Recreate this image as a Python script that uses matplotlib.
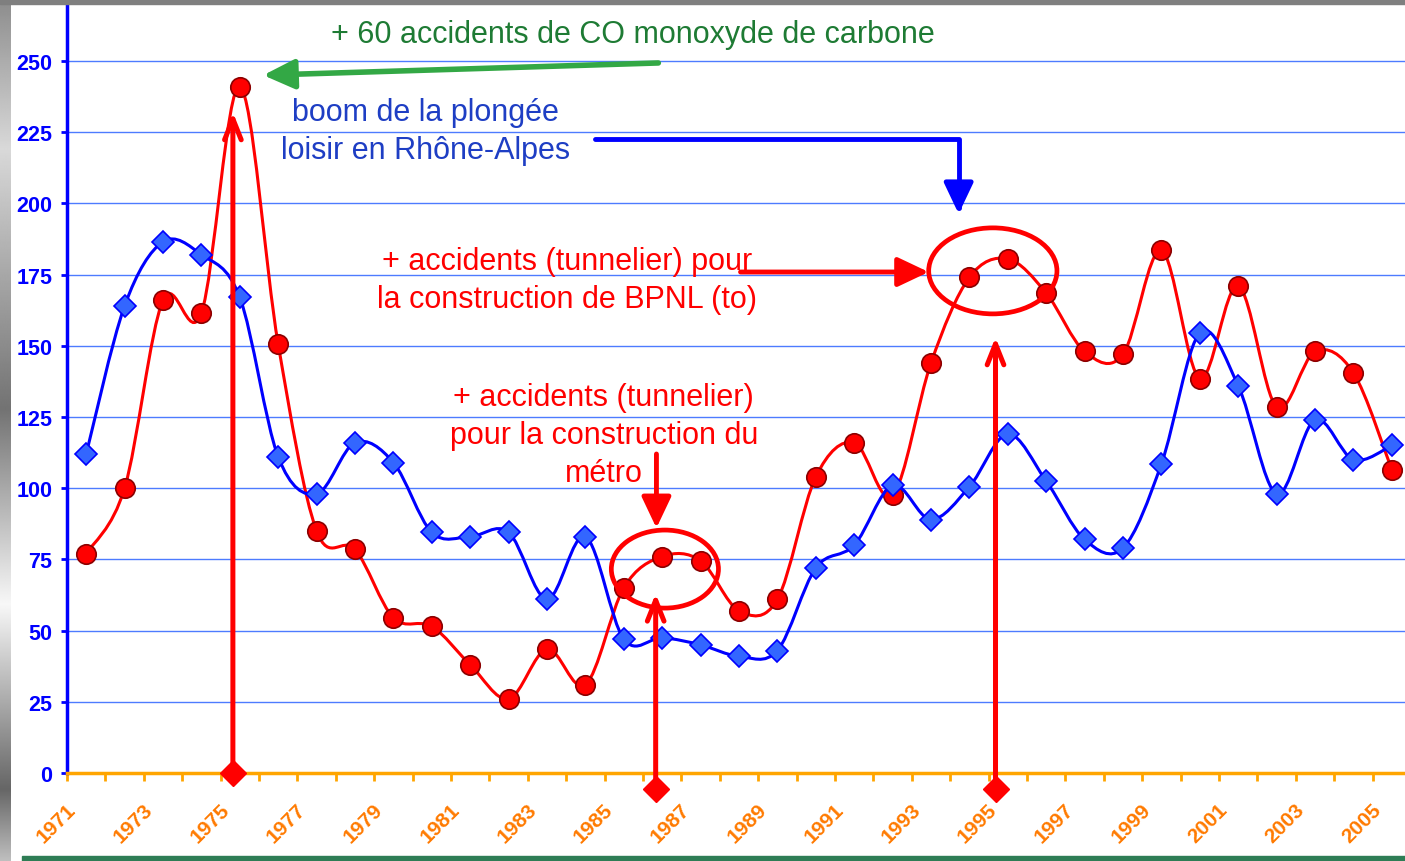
import matplotlib.pyplot as plt
import numpy as np
from matplotlib.path import Path
from matplotlib.patches import PathPatch, Ellipse, Rectangle
import matplotlib.transforms as mtransforms

plt.rcParams["font.family"] = ["Liberation Sans", "DejaVu Sans"]

# Années et séries
years = list(range(1971, 2006))
rouge = [77, 100, 166, 161.5, 241, 150.5, 85, 78.5, 54.5, 51.5,
         38, 26, 43.5, 31, 65, 76, 74.5, 57, 61, 104,
         116, 97.5, 144, 174, 180.5, 168.5, 148, 147, 183.5, 138.5,
         171, 128.5, 148, 140.5, 106.5]
bleu = [112, 164, 186.5, 182, 167, 111, 98, 116, 109, 84.5,
        83, 84.5, 61, 83, 47, 47.5, 45, 41, 43, 72,
        80, 101, 89, 100.5, 119, 102.5, 82, 79, 108.5, 154.5,
        136, 98, 124, 110, 115]
yticks = list(range(0, 251, 25))
xlabels = [str(y) for y in years[::2]]

# années marquées par les flèches verticales
evt_years = [1974.82, 1985.83, 1994.68]
evt_base = [0, -5.6, -5.6]
evt_top = [232, 63, 153]


def courbe_lisse(xs, ys):
    # courbe lissée façon Excel (Catmull-Rom en Bézier)
    pts = np.column_stack([xs, ys]).astype(float)
    n = len(pts)
    verts = [pts[0]]
    codes = [Path.MOVETO]
    for i in range(n - 1):
        p0 = pts[max(i - 1, 0)]
        p1 = pts[i]
        p2 = pts[i + 1]
        p3 = pts[min(i + 2, n - 1)]
        verts += [p1 + (p2 - p0) / 6, p2 - (p3 - p1) / 6, p2]
        codes += [Path.CURVE4] * 3
    return Path(verts, codes)


fig = plt.figure(figsize=(14.05, 8.62), dpi=100)

# bordures décoratives
g = np.interp(np.arange(862), [0, 150, 410, 605, 790, 862],
              [0.55, 0.85, 0.45, 0.97, 0.40, 0.75])
bord = fig.add_axes([0, 0, 11 / 1405, 1])
bord.imshow(np.repeat(g[:, None], 2, axis=1), cmap="gray", vmin=0, vmax=1,
            aspect="auto", interpolation="bilinear")
bord.axis("off")
fig.patches.append(Rectangle((0, 1 - 5 / 862), 1, 5 / 862, transform=fig.transFigure,
                             color="#7f7f7f", zorder=0))
fig.patches.append(Rectangle((22 / 1405, 0), 1, 5 / 862, transform=fig.transFigure,
                             color="#2E7D55", zorder=0))

ax = fig.add_axes([67 / 1405, 88 / 862, 1344 / 1405, 769 / 862])
ax.set_xlim(1970.5, 2005.5)
ax.set_ylim(0, 270)

# grille
for v in yticks[1:]:
    ax.axhline(v, color="#4D7BFF", lw=1, zorder=1)

# séries
ax.add_patch(PathPatch(courbe_lisse(years, rouge), fill=False, color="#FF0000",
                       lw=2.2, zorder=3))
ax.plot(years, rouge, ls="none", marker="o", ms=14, mfc="#FF0000",
        mec="#8B0000", mew=1.2, zorder=4)
ax.add_patch(PathPatch(courbe_lisse(years, bleu), fill=False, color="#0000FF",
                       lw=2.2, zorder=5))
ax.plot(years, bleu, ls="none", marker="D", ms=11.5, mfc="#3366FF",
        mec="#0000FF", mew=1.2, zorder=6)

# axes
for s in ["top", "right"]:
    ax.spines[s].set_visible(False)
ax.spines["left"].set_color("#0000FF")
ax.spines["left"].set_linewidth(2.5)
ax.spines["bottom"].set_color("#FFA500")
ax.spines["bottom"].set_linewidth(2.5)
ax.spines["bottom"].set_zorder(7)

ax.set_yticks(yticks)
ax.tick_params(axis="y", colors="#0000FF", length=4.5, width=2, pad=6,
               labelsize=15.5)
for t in ax.get_yticklabels():
    t.set_fontweight("bold")

ax.set_xticks(years[::2])
ax.set_xticklabels(xlabels, rotation=45, ha="right", fontweight="bold",
                   color="#FF7A00", fontsize=15)
ax.set_xticks(np.arange(1970.5, 2006), minor=True)
ax.tick_params(axis="x", which="major", length=0, pad=19)
ax.tick_params(axis="x", which="minor", length=6, width=2, color="#FFA500")
dec = mtransforms.ScaledTranslation(-5 / 72, 0, fig.dpi_scale_trans)
for t in ax.get_xticklabels():
    t.set_transform(t.get_transform() + dec)

# flèches verticales rouges
for x, b, t in zip(evt_years, evt_base, evt_top):
    ax.annotate("", xy=(x, t), xytext=(x, b),
                arrowprops=dict(arrowstyle="->,head_length=0.75,head_width=0.3",
                                mutation_scale=20, color="#FF0000", lw=3.6,
                                shrinkA=0, shrinkB=0),
                zorder=8, annotation_clip=False)
    ax.plot(x, b, marker="D", ms=13, color="#FF0000", clip_on=False, zorder=9)

# annotations
fl = "-|>,head_length=0.95,head_width=0.45"
ax.text(1985.23, 259.5, "+ 60 accidents de CO monoxyde de carbone", color="#1E7B34",
        fontsize=22, ha="center", va="center")
ax.annotate("", xy=(1975.61, 245), xytext=(1985.9, 249.3),
            arrowprops=dict(arrowstyle=fl, mutation_scale=20,
                            color="#33A845", lw=4, shrinkA=0, shrinkB=0))

ax.text(1979.83, 225.5, "boom de la plongée\nloisir en Rhône-Alpes", color="#1E3EC4",
        fontsize=22, ha="center", va="center", linespacing=1.36)
ax.annotate("", xy=(1993.72, 196.3), xytext=(1984.26, 222.6),
            arrowprops=dict(arrowstyle=fl, mutation_scale=20,
                            connectionstyle="angle,angleA=0,angleB=90,rad=0",
                            color="#0000FF", lw=3.5, shrinkA=0, shrinkB=0))

ax.text(1983.53, 173.1, "+ accidents (tunnelier) pour\nla construction de BPNL (to)",
        color="#FF0000", fontsize=22, ha="center", va="center", linespacing=1.36,
        zorder=10)
ax.annotate("", xy=(1992.94, 175.9), xytext=(1988.04, 175.9),
            arrowprops=dict(arrowstyle=fl, mutation_scale=20,
                            color="#FF0000", lw=3.5, shrinkA=0, shrinkB=0))
ax.add_patch(Ellipse((1994.61, 176.3), 3.34, 30.2, fill=False, ec="#FF0000",
                     lw=3.4, zorder=8))

ax.text(1984.48, 118.7, "+ accidents (tunnelier)\npour la construction du\nmétro",
        color="#FF0000", fontsize=22, ha="center", va="center", linespacing=1.36,
        zorder=10)
ax.annotate("", xy=(1985.85, 86.0), xytext=(1985.85, 112.0),
            arrowprops=dict(arrowstyle=fl, mutation_scale=20,
                            color="#FF0000", lw=3.5, shrinkA=0, shrinkB=0))
ax.add_patch(Ellipse((1986.07, 71.6), 2.79, 27.4, fill=False, ec="#FF0000",
                     lw=3.4, zorder=8))

fig.savefig("out.png", dpi=100)
